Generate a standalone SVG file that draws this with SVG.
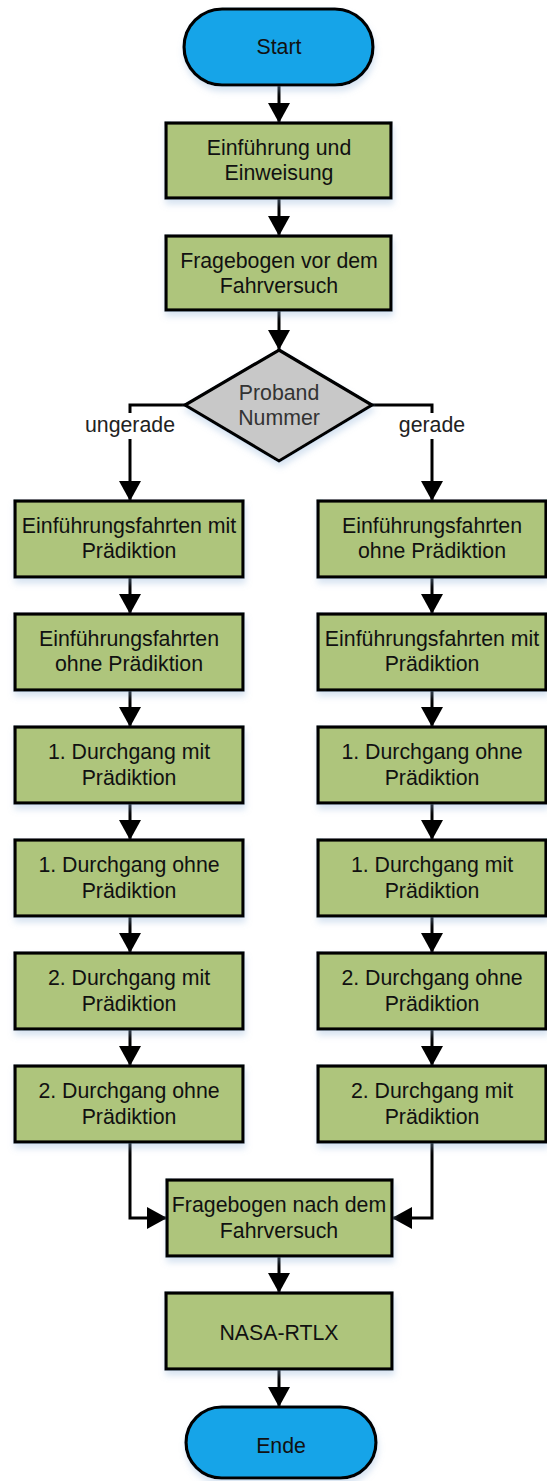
<svg xmlns="http://www.w3.org/2000/svg" width="547" height="1481" viewBox="0 0 547 1481">
<style>
text{font-family:"Liberation Sans",Arial,sans-serif;font-size:21.3px;fill:#111;text-anchor:middle}
.box{fill:#aec57b;stroke:#000;stroke-width:3.2}
.term{fill:#14a4e8;stroke:#000;stroke-width:3.2}
.dec{fill:#c8c8c8;stroke:#000;stroke-width:3.2}
.con{fill:none;stroke:#000;stroke-width:3}
.lbl{fill:#222}
</style>
<defs>
<marker id="arr" viewBox="0 0 20 22" refX="20" refY="11" markerWidth="20" markerHeight="22" markerUnits="userSpaceOnUse" orient="auto">
<path d="M0,0 L20,11 L0,22 z" fill="#000"/>
</marker>
<filter id="sh" x="-10%" y="-10%" width="130%" height="140%">
<feDropShadow dx="1" dy="5" stdDeviation="3" flood-color="#8fb0d8" flood-opacity="0.35"/>
</filter>
</defs>

<g id="connectors">
<path class="con" d="M279,85 V123" marker-end="url(#arr)"/>
<path class="con" d="M279,198 V236" marker-end="url(#arr)"/>
<path class="con" d="M279,310 V350" marker-end="url(#arr)"/>
<path class="con" d="M185,405 H130 V413"/>
<path class="con" d="M130,439 V501" marker-end="url(#arr)"/>
<path class="con" d="M372,405 H432 V413"/>
<path class="con" d="M432,439 V501" marker-end="url(#arr)"/>
<path class="con" d="M130,577 V614" marker-end="url(#arr)"/>
<path class="con" d="M130,690 V727" marker-end="url(#arr)"/>
<path class="con" d="M130,803 V840" marker-end="url(#arr)"/>
<path class="con" d="M130,916 V953" marker-end="url(#arr)"/>
<path class="con" d="M130,1029 V1066" marker-end="url(#arr)"/>
<path class="con" d="M432,577 V614" marker-end="url(#arr)"/>
<path class="con" d="M432,690 V727" marker-end="url(#arr)"/>
<path class="con" d="M432,803 V840" marker-end="url(#arr)"/>
<path class="con" d="M432,916 V953" marker-end="url(#arr)"/>
<path class="con" d="M432,1029 V1066" marker-end="url(#arr)"/>
<path class="con" d="M130,1142 V1218 H167" marker-end="url(#arr)"/>
<path class="con" d="M432,1142 V1218 H392" marker-end="url(#arr)"/>
<path class="con" d="M279,1256 V1293" marker-end="url(#arr)"/>
<path class="con" d="M279,1369 V1407" marker-end="url(#arr)"/>
<text class="lbl" x="130" y="432">ungerade</text>
<text class="lbl" x="432" y="432">gerade</text>
</g>

<g id="start"><rect class="term" filter="url(#sh)" x="184" y="9" width="189" height="76" rx="38"/><text x="279" y="54">Start</text></g>
<g id="einfuehrung"><rect class="box" filter="url(#sh)" x="166" y="123" width="225" height="75"/><text x="279" y="155">Einführung und</text><text x="279" y="180">Einweisung</text></g>
<g id="fragebogen-vor"><rect class="box" filter="url(#sh)" x="166" y="236" width="225" height="74"/><text x="279" y="268">Fragebogen vor dem</text><text x="279" y="293">Fahrversuch</text></g>
<g id="proband"><polygon class="dec" filter="url(#sh)" points="279,350 372,405 279,461 185,405"/><text x="279" y="400" style="fill:#333">Proband</text><text x="279" y="425" style="fill:#333">Nummer</text></g>

<g id="l1"><rect class="box" filter="url(#sh)" x="15" y="501" width="228" height="76"/><text x="129" y="533">Einführungsfahrten mit</text><text x="129" y="558">Prädiktion</text></g>
<g id="l2"><rect class="box" filter="url(#sh)" x="15" y="614" width="228" height="76"/><text x="129" y="646">Einführungsfahrten</text><text x="129" y="671">ohne Prädiktion</text></g>
<g id="l3"><rect class="box" filter="url(#sh)" x="15" y="727" width="228" height="76"/><text x="129" y="759">1. Durchgang mit</text><text x="129" y="785">Prädiktion</text></g>
<g id="l4"><rect class="box" filter="url(#sh)" x="15" y="840" width="228" height="76"/><text x="129" y="872">1. Durchgang ohne</text><text x="129" y="898">Prädiktion</text></g>
<g id="l5"><rect class="box" filter="url(#sh)" x="15" y="953" width="228" height="76"/><text x="129" y="985">2. Durchgang mit</text><text x="129" y="1011">Prädiktion</text></g>
<g id="l6"><rect class="box" filter="url(#sh)" x="15" y="1066" width="228" height="76"/><text x="129" y="1098">2. Durchgang ohne</text><text x="129" y="1124">Prädiktion</text></g>

<g id="r1"><rect class="box" filter="url(#sh)" x="318" y="501" width="228" height="76"/><text x="432" y="533">Einführungsfahrten</text><text x="432" y="558">ohne Prädiktion</text></g>
<g id="r2"><rect class="box" filter="url(#sh)" x="318" y="614" width="228" height="76"/><text x="432" y="646">Einführungsfahrten mit</text><text x="432" y="671">Prädiktion</text></g>
<g id="r3"><rect class="box" filter="url(#sh)" x="318" y="727" width="228" height="76"/><text x="432" y="759">1. Durchgang ohne</text><text x="432" y="785">Prädiktion</text></g>
<g id="r4"><rect class="box" filter="url(#sh)" x="318" y="840" width="228" height="76"/><text x="432" y="872">1. Durchgang mit</text><text x="432" y="898">Prädiktion</text></g>
<g id="r5"><rect class="box" filter="url(#sh)" x="318" y="953" width="228" height="76"/><text x="432" y="985">2. Durchgang ohne</text><text x="432" y="1011">Prädiktion</text></g>
<g id="r6"><rect class="box" filter="url(#sh)" x="318" y="1066" width="228" height="76"/><text x="432" y="1098">2. Durchgang mit</text><text x="432" y="1124">Prädiktion</text></g>

<g id="fragebogen-nach"><rect class="box" filter="url(#sh)" x="167" y="1180" width="225" height="76"/><text x="279" y="1212">Fragebogen nach dem</text><text x="279" y="1238">Fahrversuch</text></g>
<g id="nasa"><rect class="box" filter="url(#sh)" x="166" y="1293" width="226" height="76"/><text x="279" y="1340">NASA-RTLX</text></g>
<g id="ende"><rect class="term" filter="url(#sh)" x="186" y="1407" width="190" height="71" rx="35.5"/><text x="281" y="1453">Ende</text></g>
</svg>
